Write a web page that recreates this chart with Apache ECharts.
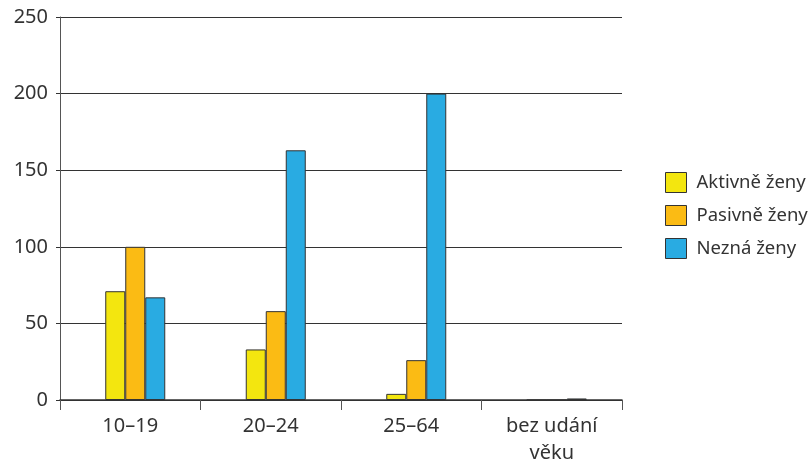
<!DOCTYPE html>
<html><head><meta charset="utf-8">
<script src="https://cdn.jsdelivr.net/npm/echarts@6/dist/echarts.min.js"></script>
<style>html,body{margin:0;padding:0;background:#fff}#c{width:811px;height:462px}</style>
</head><body><div id="c"></div>
<script>
const categories = ['10–19', '20–24', '25–64', 'bez udání\nvěku'];
const aktivne = [71, 33, 4, 0];
const pasivne = [100, 58, 26, 0];
const nezna = [67, 163, 200, 1];
const seriesNames = ['Aktivně ženy', 'Pasivně ženy', 'Nezná ženy'];
const colors = ['#f3e60f', '#fbbb14', '#29abe2'];

const chart = echarts.init(document.getElementById('c'));
const font = '"Noto Sans", "Open Sans", sans-serif';
const mk = (name, data, color) => ({
  name, type: 'bar', data, barWidth: 20, barGap: '0%',
  itemStyle: { color, borderColor: '#333', borderWidth: 1 },
  emphasis: { disabled: true }
});
chart.setOption({
  animation: false,
  grid: { left: 60, right: 189, top: 17, bottom: 62, containLabel: false, outerBoundsMode: 'none' },
  legend: {
    orient: 'vertical', left: 665, top: 172, padding: 0, itemWidth: 21, itemHeight: 20, itemGap: 12,
    icon: 'rect',
    textStyle: { fontFamily: font, fontSize: 18.5, lineHeight: 20, color: '#333', padding: [0, 0, 0, 5] },
    itemStyle: { borderColor: '#333', borderWidth: 1 },
    data: seriesNames
  },
  xAxis: {
    type: 'category', data: categories,
    axisLine: { lineStyle: { color: '#333', width: 1.5 } },
    axisTick: { show: true, alignWithLabel: false, length: 10, lineStyle: { color: '#555' } },
    axisLabel: { fontFamily: font, fontSize: 20, color: '#333', margin: 13, lineHeight: 27, interval: 0 }
  },
  yAxis: {
    type: 'value', min: 0, max: 250, interval: 50,
    axisLine: { show: true, lineStyle: { color: '#555' } },
    axisTick: { show: true, length: 4, lineStyle: { color: '#333' } },
    splitLine: { lineStyle: { color: '#333', width: 1 } },
    axisLabel: { fontFamily: font, fontSize: 20, color: '#333', margin: 12 }
  },
  series: [
    { name: 'spacer', type: 'bar', data: [null, null, null, null], barWidth: 10, barGap: '0%', silent: true },
    mk(seriesNames[0], aktivne, colors[0]), mk(seriesNames[1], pasivne, colors[1]), mk(seriesNames[2], nezna, colors[2])
  ]
});
</script></body></html>
